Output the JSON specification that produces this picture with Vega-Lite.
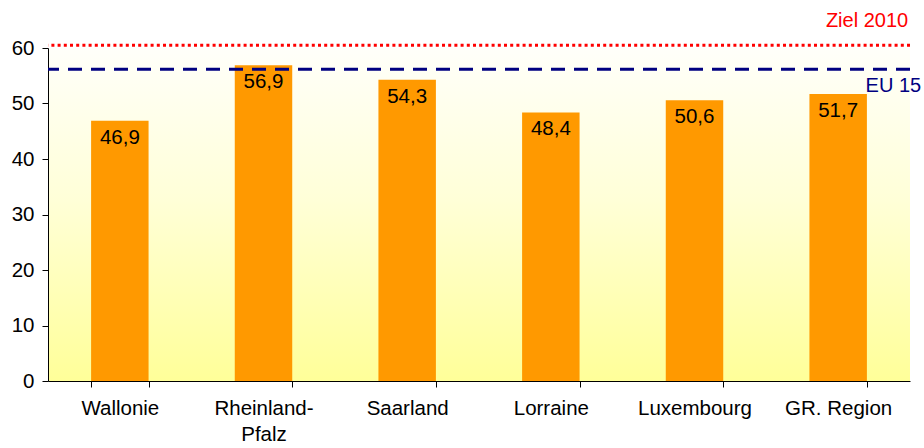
{
  "$schema": "https://vega.github.io/schema/vega-lite/v6.json",
  "width": 862,
  "height": 333,
  "autosize": {"type": "none"},
  "padding": {"left": 48, "top": 48, "right": 14, "bottom": 67},
  "background": "white",
  "config": {
    "locale": {"number": {"decimal": ",", "thousands": ".", "grouping": [3], "currency": ["", " €"]}},
    "font": "Liberation Sans",
    "view": {
      "stroke": null,
      "fill": {"gradient": "linear", "x1": 0, "y1": 0, "x2": 0, "y2": 1,
        "stops": [{"offset": 0, "color": "#FFFFFA"}, {"offset": 0.45, "color": "#FFFFD8"}, {"offset": 1, "color": "#FFFF99"}]}
    },
    "axis": {"labelFont": "Liberation Sans", "labelFontSize": 20.5, "labelColor": "#000000", "domainColor": "#000000", "tickColor": "#000000", "grid": false, "title": null}
  },
  "datasets": {
    "bars": [
      {"region": "Wallonie", "value": 46.9},
      {"region": "Rheinland-Pfalz", "value": 56.9},
      {"region": "Saarland", "value": 54.3},
      {"region": "Lorraine", "value": 48.4},
      {"region": "Luxembourg", "value": 50.6},
      {"region": "GR. Region", "value": 51.7}
    ],
    "refs": [
      {"name": "Ziel 2010", "value": 60.5},
      {"name": "EU 15", "value": 56.15}
    ]
  },
  "layer": [
    {
      "data": {"name": "bars"},
      "mark": {"type": "bar", "color": "#FF9900"},
      "encoding": {
        "x": {
          "field": "region", "type": "nominal", "sort": null,
          "scale": {"paddingInner": 0.6, "paddingOuter": 0.3},
          "axis": {"labelAngle": 0, "tickBand": "extent", "tickSize": 6, "labelPadding": 11, "labelLineHeight": 26,
            "labelExpr": "datum.value == 'Rheinland-Pfalz' ? ['Rheinland-', 'Pfalz'] : datum.value"}
        },
        "y": {
          "field": "value", "type": "quantitative",
          "scale": {"domain": [0, 60], "nice": false},
          "axis": {"values": [0, 10, 20, 30, 40, 50, 60], "tickSize": 6, "labelPadding": 8}
        }
      }
    },
    {
      "data": {"name": "bars"},
      "mark": {"type": "text", "baseline": "top", "dy": 7, "fontSize": 20.5, "color": "#000000"},
      "encoding": {
        "x": {"field": "region", "type": "nominal", "sort": null},
        "y": {"field": "value", "type": "quantitative"},
        "text": {"field": "value", "type": "quantitative", "format": ".1f"}
      }
    },
    {
      "data": {"name": "refs"},
      "transform": [{"filter": "datum.name == 'Ziel 2010'"}],
      "mark": {"type": "rule", "color": "#FF0000", "strokeWidth": 3, "strokeDash": [3, 3.2], "clip": false},
      "encoding": {"y": {"field": "value", "type": "quantitative"}}
    },
    {
      "data": {"name": "refs"},
      "transform": [{"filter": "datum.name == 'EU 15'"}],
      "mark": {"type": "rule", "color": "#000080", "strokeWidth": 3, "strokeDash": [14, 9]},
      "encoding": {"y": {"field": "value", "type": "quantitative"}}
    },
    {
      "data": {"name": "refs"},
      "transform": [{"filter": "datum.name == 'Ziel 2010'"}],
      "mark": {"type": "text", "color": "#FF0000", "fontSize": 20, "align": "right", "baseline": "alphabetic", "dx": 70, "dy": -18},
      "encoding": {
        "x": {"datum": "GR. Region", "type": "nominal"},
        "y": {"field": "value", "type": "quantitative"},
        "text": {"field": "name"}
      }
    },
    {
      "data": {"name": "refs"},
      "transform": [{"filter": "datum.name == 'EU 15'"}],
      "mark": {"type": "text", "color": "#000080", "fontSize": 20, "align": "right", "baseline": "alphabetic", "dx": 83, "dy": 23},
      "encoding": {
        "x": {"datum": "GR. Region", "type": "nominal"},
        "y": {"field": "value", "type": "quantitative"},
        "text": {"field": "name"}
      }
    }
  ]
}
